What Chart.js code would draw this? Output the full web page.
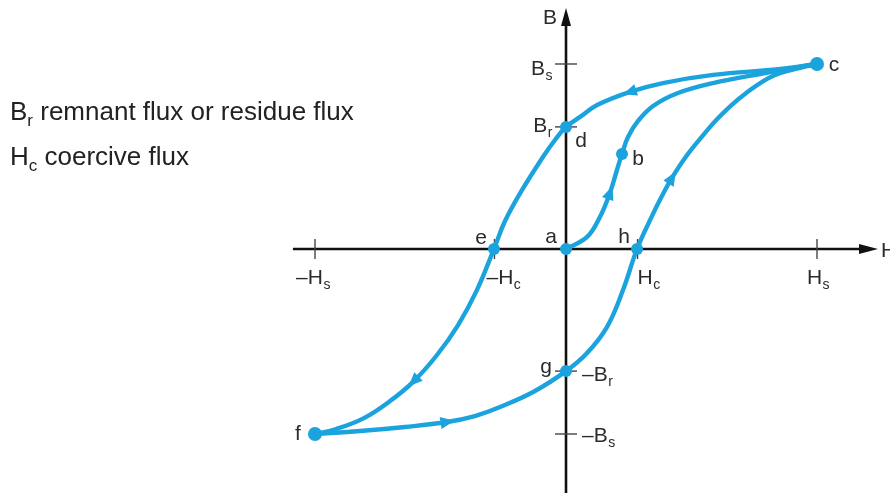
<!DOCTYPE html>
<html>
<head>
<meta charset="utf-8">
<title>Hysteresis loop</title>
<script src="https://cdn.jsdelivr.net/npm/chart.js@4.4.1/dist/chart.umd.min.js"></script>
<style>
  html, body { margin: 0; padding: 0; background: #fff; }
  #wrap { position: relative; width: 890px; height: 496px; overflow: hidden; }
  #loop { position: absolute; left: 0; top: 0; }
  .note {
    position: absolute; left: 10px; white-space: nowrap;
    font: 26px "Liberation Sans", Arial, sans-serif; line-height: 30px; color: #222;
  }
  .note sub { font-size: 17px; line-height: 0; vertical-align: -6px; }
</style>
</head>
<body>
<div id="wrap">
  <canvas id="loop" width="890" height="496"></canvas>
  <div class="note" style="top:96px">B<sub>r</sub> remnant flux or residue flux</div>
  <div class="note" style="top:141px">H<sub>c</sub> coercive flux</div>
</div>

<script>
/* ── Loop data: H in units of Hs, B in units of Bs ─────────── */
/* Upper branch c → d → e → f (field decreasing) */
const upperH = [1, 0.853, 0.586, 0.386, 0.255, 0.124, 0.056, 0, -0.044, -0.092, -0.175, -0.243, -0.287, -0.355, -0.430, -0.514, -0.606, -0.701, -0.805, -0.916, -1];
const upperB = [1, 0.973, 0.941, 0.897, 0.849, 0.778, 0.714, 0.660, 0.589, 0.497, 0.319, 0.151, 0, -0.222, -0.411, -0.573, -0.714, -0.822, -0.914, -0.973, -1];

/* Lower branch f → g → h → c (field increasing) */
const lowerH = [-1, -0.821, -0.641, -0.474, -0.363, -0.263, -0.131, 0, 0.084, 0.163, 0.227, 0.283, 0.339, 0.382, 0.422, 0.474, 0.534, 0.614, 0.713, 0.833, 1];
const lowerB = [-1, -0.984, -0.962, -0.935, -0.903, -0.854, -0.773, -0.660, -0.562, -0.422, -0.222, 0, 0.168, 0.286, 0.384, 0.492, 0.595, 0.719, 0.838, 0.941, 1];

/* Initial magnetisation a → b → c */
const initH = [0, 0.084, 0.135, 0.175, 0.203, 0.223, 0.247, 0.287, 0.347, 0.446, 0.586, 0.773, 1];
const initB = [0, 0.065, 0.173, 0.303, 0.427, 0.514, 0.605, 0.692, 0.773, 0.843, 0.897, 0.946, 1];

/* Which points of each branch carry a direction arrow */
const upperArrows = [4, 16];
const lowerArrows = [3, 14];
const initArrows  = [3];

/* Named points on the loop */
const markerNames = ["a", "b", "c", "d", "e", "f", "g", "h"];
const markerH = [0, 0.223, 1, 0, -0.287, -1, 0, 0.283];
const markerB = [0, 0.514, 1, 0.660, 0, -1, -0.660, 0];

/* Axis ticks: value + label (main text, subscript) */
const hTicks = [-1, -0.285, 0.285, 1];
const hTickLabels = [["\u2013H", "s"], ["\u2013H", "c"], ["H", "c"], ["H", "s"]];
const bTicks = [1, 0.66, -0.66, -1];
const bTickLabels = [["B", "s"], ["B", "r"], ["\u2013B", "r"], ["\u2013B", "s"]];

/* ── Look & layout ──────────────────────────────────────────── */
const BLUE = "#1ba3de";
const INK = "#111";
const TEXT = "#2b2b2b";
const FONT = '"Liberation Sans", Arial, sans-serif';
const MAIN_PX = 21;
const SUB_PX = 14;

/* label offsets (px) from each named point */
const markerLabelOffset = {
  a: [-15, -12], b: [16, 5], c: [17, 1], d: [15, 14],
  e: [-13, -11], f: [-17, 0], g: [-20, -4], h: [-13, -12],
};
/* tick label placement */
const hLabelStyle = [
  { align: "center", dx: -2 }, { align: "left", dx: -8 },
  { align: "left", dx: 0 },    { align: "center", dx: 1 },
];
const bLabelStyle = [
  { align: "right", dx: -14, dy: 3 }, { align: "right", dx: -14, dy: -2 },
  { align: "left", dx: 16, dy: 2 },   { align: "left", dx: 16, dy: 0 },
];

const toPoints = (hs, bs) => hs.map((h, i) => ({ x: h, y: bs[i] }));

/* Draw "main" + lowered subscript; y is the middle of the capitals */
function drawSubText(ctx, main, sub, x, y, align) {
  ctx.font = MAIN_PX + "px " + FONT;
  const wMain = ctx.measureText(main).width;
  ctx.font = SUB_PX + "px " + FONT;
  const wSub = sub ? ctx.measureText(sub).width : 0;
  const total = wMain + wSub;
  let left = x;
  if (align === "center") left = x - total / 2;
  if (align === "right") left = x - total;
  const base = y + MAIN_PX * 0.358;
  ctx.textAlign = "left";
  ctx.textBaseline = "alphabetic";
  ctx.font = MAIN_PX + "px " + FONT;
  ctx.fillText(main, left, base);
  if (sub) {
    ctx.font = SUB_PX + "px " + FONT;
    ctx.fillText(sub, left + wMain + 0.5, base + 5);
  }
}

/* ── Axes, ticks and labels drawn under the loop ────────────── */
const axesPlugin = {
  id: "crossAxes",
  beforeDatasetsDraw(chart) {
    const { ctx, scales: { x, y } } = chart;
    const x0 = x.getPixelForValue(0);
    const y0 = y.getPixelForValue(0);
    ctx.save();
    ctx.strokeStyle = INK;
    ctx.fillStyle = INK;
    ctx.lineWidth = 2.6;

    /* H axis with arrow head */
    const hLeft = x.getPixelForValue(-1.088);
    const hTip = x.getPixelForValue(1.243);
    ctx.beginPath();
    ctx.moveTo(hLeft, y0);
    ctx.lineTo(hTip - 14, y0);
    ctx.stroke();
    ctx.beginPath();
    ctx.moveTo(hTip, y0);
    ctx.lineTo(hTip - 19, y0 - 5);
    ctx.lineTo(hTip - 19, y0 + 5);
    ctx.closePath();
    ctx.fill();

    /* B axis with arrow head */
    const bBottom = y.getPixelForValue(-1.319);
    const bTip = y.getPixelForValue(1.303);
    ctx.beginPath();
    ctx.moveTo(x0, bBottom);
    ctx.lineTo(x0, bTip + 14);
    ctx.stroke();
    ctx.beginPath();
    ctx.moveTo(x0, bTip);
    ctx.lineTo(x0 - 5, bTip + 18);
    ctx.lineTo(x0 + 5, bTip + 18);
    ctx.closePath();
    ctx.fill();

    /* tick marks crossing the axes */
    ctx.lineWidth = 1.4;
    ctx.strokeStyle = "#444";
    hTicks.forEach((v) => {
      const px = x.getPixelForValue(v);
      ctx.beginPath();
      ctx.moveTo(px, y0 - 10);
      ctx.lineTo(px, y0 + 10);
      ctx.stroke();
    });
    bTicks.forEach((v) => {
      const py = y.getPixelForValue(v);
      ctx.beginPath();
      ctx.moveTo(x0 - 11, py);
      ctx.lineTo(x0 + 11, py);
      ctx.stroke();
    });

    /* tick labels */
    ctx.fillStyle = TEXT;
    hTicks.forEach((v, i) => {
      const s = hLabelStyle[i];
      drawSubText(ctx, hTickLabels[i][0], hTickLabels[i][1],
        x.getPixelForValue(v) + s.dx, y0 + 27, s.align);
    });
    bTicks.forEach((v, i) => {
      const s = bLabelStyle[i];
      drawSubText(ctx, bTickLabels[i][0], bTickLabels[i][1],
        x0 + s.dx, y.getPixelForValue(v) + s.dy, s.align);
    });

    /* axis names */
    drawSubText(ctx, "B", "", x0 - 23, bTip + 9, "left");
    drawSubText(ctx, "H", "", hTip + 3, y0, "left");
    ctx.restore();
  },
};

/* ── Direction arrows on the branches + point names ─────────── */
const arrowPlugin = {
  id: "loopArrows",
  afterDatasetsDraw(chart) {
    const { ctx } = chart;
    ctx.save();
    ctx.fillStyle = BLUE;
    chart.data.datasets.forEach((ds, di) => {
      if (!ds.arrowAt) return;
      const pts = chart.getDatasetMeta(di).data;
      ds.arrowAt.forEach((i) => {
        const p = pts[i];
        let dx = p.cp2x - p.cp1x;
        let dy = p.cp2y - p.cp1y;
        if (!isFinite(dx) || !isFinite(dy) || (dx === 0 && dy === 0)) {
          dx = pts[i + 1].x - pts[i - 1].x;
          dy = pts[i + 1].y - pts[i - 1].y;
        }
        const a = Math.atan2(dy, dx);
        ctx.save();
        ctx.translate(p.x, p.y);
        ctx.rotate(a);
        ctx.beginPath();
        ctx.moveTo(7.5, 0);
        ctx.lineTo(-6.5, -6);
        ctx.lineTo(-6.5, 6);
        ctx.closePath();
        ctx.fill();
        ctx.restore();
      });
    });

    /* point names */
    ctx.fillStyle = TEXT;
    ctx.font = MAIN_PX + "px " + FONT;
    ctx.textAlign = "center";
    ctx.textBaseline = "middle";
    const dots = chart.getDatasetMeta(0).data;
    markerNames.forEach((n, i) => {
      const off = markerLabelOffset[n];
      ctx.fillText(n, dots[i].x + off[0], dots[i].y + off[1]);
    });
    ctx.restore();
  },
};

/* ── Chart ──────────────────────────────────────────────────── */
const branch = (label, hs, bs, arrows) => ({
  label,
  data: toPoints(hs, bs),
  showLine: true,
  borderColor: BLUE,
  borderWidth: 4.4,
  tension: 0.4,
  pointRadius: 0,
  borderCapStyle: "round",
  borderJoinStyle: "round",
  arrowAt: arrows,
});

new Chart(document.getElementById("loop"), {
  type: "scatter",
  data: {
    datasets: [
      {
        label: "points",
        data: toPoints(markerH, markerB),
        pointRadius: [6, 6, 7, 6, 6, 7, 6, 6],
        pointBackgroundColor: BLUE,
        pointBorderWidth: 0,
      },
      branch("upper", upperH, upperB, upperArrows),
      branch("lower", lowerH, lowerB, lowerArrows),
      branch("initial", initH, initB, initArrows),
    ],
  },
  options: {
    responsive: false,
    animation: false,
    layout: { padding: 0, autoPadding: false },
    plugins: { legend: { display: false }, tooltip: { enabled: false } },
    scales: {
      /* ranges set so H = ±Hs sits at ±251 px and B = ±Bs at ±185 px from the origin */
      x: { type: "linear", display: false, min: -2.2550, max: 1.2908 },
      y: { type: "linear", display: false, min: -1.3351, max: 1.3459 },
    },
  },
  plugins: [axesPlugin, arrowPlugin],
});
</script>
</body>
</html>
